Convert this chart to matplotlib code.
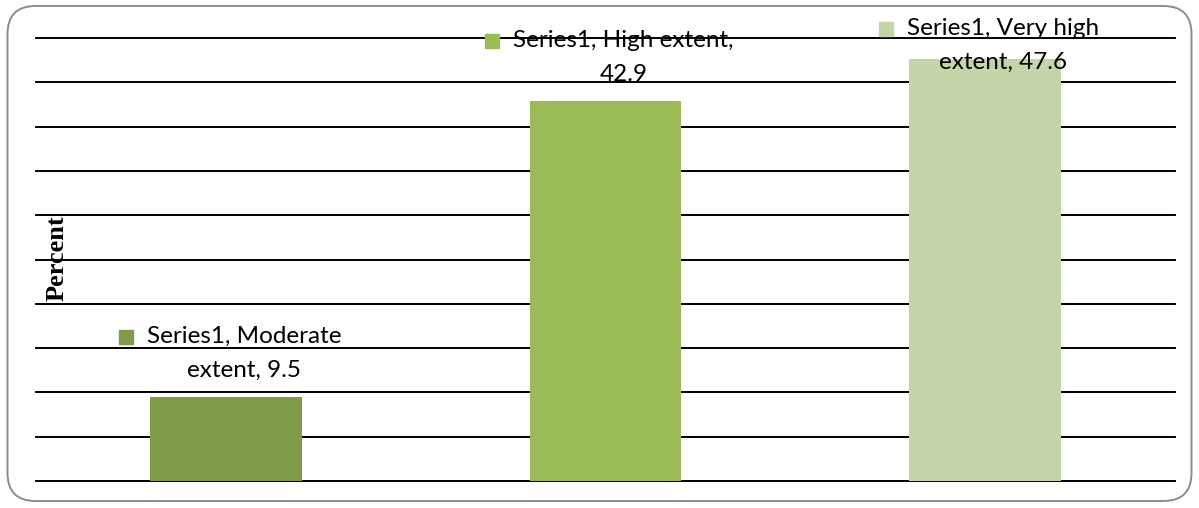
import textwrap
import numpy as np
import matplotlib
matplotlib.use("Agg")
import matplotlib.pyplot as plt
from matplotlib.patches import FancyBboxPatch, Rectangle

# ---- data ----
series_name = "Series1"
categories = ["Moderate extent", "High extent", "Very high extent"]
values = [9.5, 42.9, 47.6]
bar_colors = ["#7F9B48", "#9BBB59", "#C4D6A9"]
y_label = "Percent"

W, H, DPI = 1199, 508, 100
fig = plt.figure(figsize=(W / DPI, H / DPI), dpi=DPI)
ax = fig.add_axes([36 / W, 1 - 481 / H, 1139 / W, 443 / H])

x = np.arange(len(categories))
ax.bar(x, values, width=0.4, color=bar_colors, zorder=2)
ax.set_xlim(-0.5, len(categories) - 0.5)
ax.set_ylim(0, 50)
ax.set_yticks(np.arange(0, 51, 5))
ax.yaxis.grid(True, color="black", linewidth=1.4)
ax.set_axisbelow(True)
ax.tick_params(left=False, bottom=False, labelleft=False, labelbottom=False)
for s in ax.spines.values():
    s.set_visible(False)
for gl in ax.get_ygridlines():
    gl.set_clip_on(False)

font = dict(family=["Lato", "DejaVu Sans"], size=17.5, color="black")
line_gap = 12.3  # points from block centre to each line
label_tops = []
for xi, cat, v, c in zip(x, categories, values, bar_colors):
    lines = textwrap.wrap(f"{series_name}, {cat}, {v}", width=21)
    yc = min(v + 4.9, 49.2)
    t1 = ax.annotate(lines[0], xy=(xi, yc), xytext=(13, line_gap),
                     textcoords="offset points", ha="center", va="center",
                     zorder=3, **font)
    t2 = ax.annotate(lines[1], xy=(xi, yc), xytext=(13, -line_gap),
                     textcoords="offset points", ha="center", va="center",
                     zorder=3, **font)
    label_tops.append((t1, c))

fig.canvas.draw()
inv = fig.transFigure.inverted()
for t1, c in label_tops:
    bb = t1.get_window_extent()
    ymid = (bb.y0 + bb.y1) / 2
    size = 14
    x1 = bb.x0 - 14
    x0 = x1 - size
    (fx0, fy0) = inv.transform((x0, ymid - size / 2 - 1))
    (fx1, fy1) = inv.transform((x1, ymid + size / 2 - 1))
    fig.patches.append(Rectangle((fx0, fy0), fx1 - fx0, fy1 - fy0,
                                 transform=fig.transFigure, color=c,
                                 zorder=4, figure=fig))

fig.text(57 / W, 1 - 258 / H, y_label, rotation=90, ha="center", va="center",
         family="Liberation Serif", weight="bold", size=19)

border = FancyBboxPatch((0.075, 0.07), 11.84, 4.95,
                        boxstyle="round,pad=0,rounding_size=0.28",
                        transform=fig.dpi_scale_trans, facecolor="none",
                        edgecolor="#8C8C8C", linewidth=1.4, zorder=5)
fig.patches.append(border)

fig.savefig("out.png", dpi=DPI)
